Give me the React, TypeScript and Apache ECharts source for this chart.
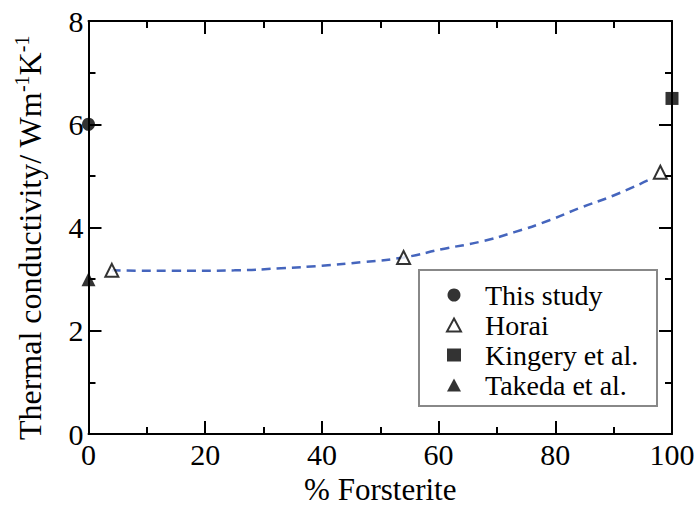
import React, { useEffect, useRef } from "react";
import * as echarts from "echarts";

const FONT = "Liberation Serif";
const TXT = { fontFamily: FONT, fontStyle: "normal", fontWeight: "normal", color: "#000" };

const seriesNames = ["This study", "Horai", "Kingery et al.", "Takeda et al."];
const thisStudy = [[0, 6.0]];
const horai = [[4, 3.17], [54, 3.42], [98, 5.07]];
const kingery = [[100, 6.5]];
const takeda = [[0, 3.0]];
const fitCurve = [
  [4, 3.17], [15, 3.16], [25, 3.17], [33, 3.21], [40, 3.26], [47, 3.33],
  [54, 3.42], [61, 3.59], [67, 3.72], [73, 3.91], [79, 4.14], [84, 4.37],
  [90, 4.62], [96, 4.92],
];
const xTicks = { min: 0, max: 100, interval: 20 };
const yTicks = { min: 0, max: 8, interval: 2 };

export default function App() {
  const ref = useRef<HTMLDivElement>(null);
  useEffect(() => {
    const chart = echarts.init(ref.current!, null, { renderer: "svg" });
    const axisCommon = {
      axisLine: { show: true, onZero: false, lineStyle: { color: "#000", width: 2 } },
      axisTick: { show: true, inside: true, length: 13, lineStyle: { color: "#000", width: 2 } },
      minorTick: { show: true, splitNumber: 2, length: 7, lineStyle: { color: "#000", width: 2 } },
      splitLine: { show: false },
    };
    chart.setOption({
      animation: false,
      backgroundColor: "#fff",
      textStyle: { ...TXT },
      grid: { left: 88.5, right: 25, top: 21, bottom: 71, containLabel: false, outerBoundsMode: "none" },
      xAxis: [
        {
          type: "value", ...xTicks, position: "bottom", ...axisCommon,
          axisLabel: { ...TXT, fontSize: 30, margin: 5 },
          name: "% Forsterite", nameLocation: "middle", nameGap: 40,
          nameTextStyle: { ...TXT, fontSize: 31, lineHeight: 31 },
        },
        {
          type: "value", ...xTicks, position: "top", ...axisCommon,
          axisLabel: { show: false },
        },
      ],
      yAxis: [
        {
          type: "value", ...yTicks, position: "left", ...axisCommon,
          axisLabel: { ...TXT, fontSize: 30, margin: 5 },
        },
        {
          type: "value", ...yTicks, position: "right", ...axisCommon,
          axisLabel: { show: false },
        },
      ],
      legend: {
        data: seriesNames,
        orient: "vertical",
        left: 446,
        top: 281,
        padding: 0,
        itemGap: 2,
        itemWidth: 14,
        itemHeight: 13,
        textStyle: { ...TXT, fontSize: 28, lineHeight: 28, padding: [0, 0, 0, 19] },
      },
      graphic: [
        {
          type: "rect",
          z: 1,
          shape: { x: 419, y: 270, width: 238, height: 136 },
          style: { fill: "#fff", stroke: "#888", lineWidth: 2 },
        },
        {
          type: "text",
          x: 30,
          y: 238,
          rotation: Math.PI / 2,
          style: {
            text: "{a|Thermal conductivity/ Wm}{s|-1}{a|K}{s|-1}",
            align: "center",
            verticalAlign: "middle",
            fill: "#000",
            rich: {
              a: { fontSize: 32, fontFamily: FONT, fontStyle: "normal", fontWeight: "normal", lineHeight: 36, fill: "#000" },
              s: { fontSize: 20, fontFamily: FONT, fontStyle: "normal", fontWeight: "normal", lineHeight: 36, verticalAlign: "top", fill: "#000" },
            },
          },
        },
      ],
      series: [
        {
          name: "fit", type: "line", data: fitCurve, smooth: true, showSymbol: false, symbol: "none",
          lineStyle: { color: "#4565bd", width: 2.5, type: [9, 6] }, z: 2, silent: true,
        },
        {
          name: seriesNames[0], type: "scatter", data: thisStudy, symbol: "circle", symbolSize: 13,
          itemStyle: { color: "#000" }, clip: false, z: 5,
        },
        {
          name: seriesNames[1], type: "scatter", data: horai, symbol: "triangle", symbolSize: 13,
          itemStyle: { color: "#fff", borderColor: "#000", borderWidth: 2 }, clip: false, z: 5,
        },
        {
          name: seriesNames[2], type: "scatter", data: kingery, symbol: "rect", symbolSize: 13,
          itemStyle: { color: "#000" }, clip: false, z: 5,
        },
        {
          name: seriesNames[3], type: "scatter", data: takeda, symbol: "triangle", symbolSize: 14,
          itemStyle: { color: "#000" }, clip: false, z: 5,
        },
      ],
    });
    return () => chart.dispose();
  }, []);
  return <div ref={ref} style={{ width: 697, height: 505, position: "absolute", left: 0, top: 0 }} />;
}
